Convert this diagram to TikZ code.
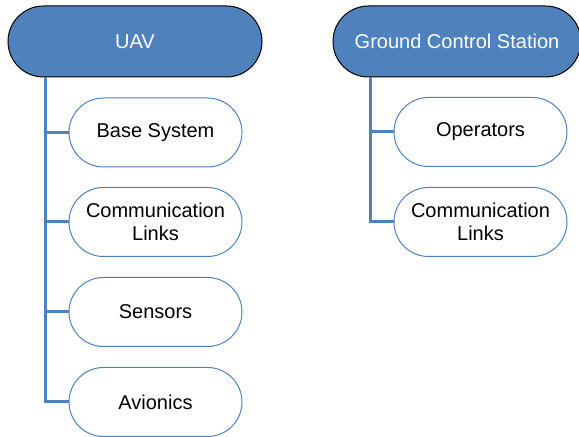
\documentclass[tikz,border=0pt]{standalone}
\usepackage{fontspec}
\setmainfont{Liberation Sans}
\usetikzlibrary{positioning}
\definecolor{officeblue}{HTML}{4F81BD}

\begin{document}
\begin{tikzpicture}[
    x=0.5pt, y=-0.5pt,
    head/.style={draw=black, line width=0.5pt, fill=officeblue, text=white,
        rounded corners=17.75pt, minimum height=35.5pt, inner sep=0pt},
    item/.style={draw=officeblue, line width=0.5pt, fill=white, align=center,
        rounded corners=17.25pt, minimum width=86.5pt, minimum height=34.5pt,
        inner sep=0pt},
    link/.style={officeblue, line width=1.5pt},
    every node/.style={font=\fontsize{10}{11.5}\selectfont}
    ]
    \useasboundingbox (0,0) rectangle (579,437);
    % headers
    \node[head, minimum width=127pt] (uav) at (135,41.5) {UAV};
    \node[head, minimum width=124pt] (gcs) at (457,41.5) {Ground Control Station};
    % UAV parts
    \node[item] (base) at (155.5,132.5) {Base System};
    \node[item] (uavcomm) at (155.5,222) {Communication\\Links};
    \node[item] (sensors) at (155.5,312) {Sensors};
    \node[item] (avionics) at (155.5,402) {Avionics};
    % GCS parts
    \node[item] (operators) at (480.5,132) {Operators};
    \node[item] (gcscomm) at (480.5,222) {Communication\\Links};
    % trunk lines
    \coordinate (uavbus) at (uav.south -| 45,0);
    \coordinate (gcsbus) at (gcs.south -| 370,0);
    \foreach \part in {base, uavcomm, sensors, avionics}
        \draw[link] (uavbus) |- (\part.west);
    \foreach \part in {operators, gcscomm}
        \draw[link] (gcsbus) |- (\part.west);
\end{tikzpicture}
\end{document}
